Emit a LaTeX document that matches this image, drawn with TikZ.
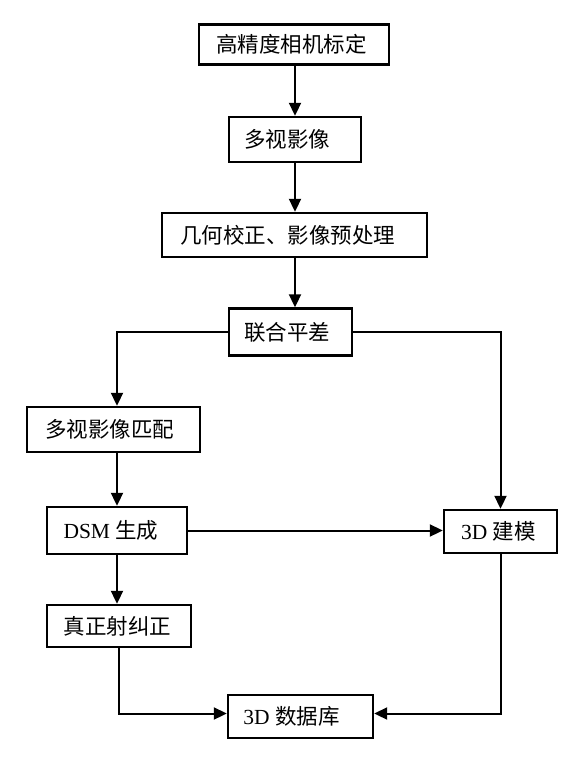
\documentclass[tikz,border=0pt]{standalone}
\usepackage{fontspec}
\setmainfont{Liberation Serif}
\newfontfamily\cjk{Noto Sans CJK SC}
\usetikzlibrary{arrows.meta}
\newcommand\lft[2]{\hspace*{-#1pt}#2}
\begin{document}
\begin{tikzpicture}[x=1pt,y=-1pt,
  box/.style={draw,line width=2.4pt,inner sep=0pt,font=\fontsize{21.5pt}{24pt}\selectfont},
  conn/.style={line width=2pt,-{Triangle[length=13pt,width=12pt]}}]
\useasboundingbox (0,0) rectangle (585,767);
\fill[white] (0,0) rectangle (585,767);
\node[box,minimum width=190pt,minimum height=40pt] (n1) at (294,44.5) {\lft{5}{\cjk 高精度相机标定}};
\node[box,minimum width=132pt,minimum height=45pt] (n2) at (295,139.5) {\lft{16}{\cjk 多视影像}};
\node[box,minimum width=265pt,minimum height=44pt] (n3) at (294.5,235) {\lft{14}{\cjk 几何校正、影像预处理}};
\node[box,minimum width=123pt,minimum height=47pt] (n4) at (290.5,332) {\lft{7}{\cjk 联合平差}};
\node[box,minimum width=173pt,minimum height=45pt] (n5) at (113.5,429.5) {\lft{8}{\cjk 多视影像匹配}};
\node[box,minimum width=140pt,minimum height=47pt] (n6) at (117,530.5) {\lft{12}{DSM {\cjk 生成}}};
\node[box,minimum width=113pt,minimum height=43pt] (n7) at (500.5,531.5) {\lft{4}{3D {\cjk 建模}}};
\node[box,minimum width=144pt,minimum height=42pt] (n8) at (119,626) {\lft{3}{\cjk 真正射纠正}};
\node[box,minimum width=145pt,minimum height=43pt] (n9) at (300.5,716.5) {\lft{18}{3D {\cjk 数据库}}};
\draw[conn] (n1.south -| n2.north) -- (n2.north);
\draw[conn] (n2.south) -- (n2.south |- n3.north);
\draw[conn] (n3.south -| n2.south) -- (n2.south |- n4.north);
\draw[conn] (n4.west) -| (n5.north -| n6.north);
\draw[conn] (n5.south -| n6.north) -- (n6.north);
\draw[conn] (n6.south) -- (n6.south |- n8.north);
\draw[conn] (n6.east) -- (n6.east -| n7.west);
\draw[conn] (n4.east) -| (n7.north);
\draw[conn] (n8.south) |- ([yshift=3pt]n9.west);
\draw[conn] (n7.south) |- ([yshift=3pt]n9.east);
\end{tikzpicture}
\end{document}
